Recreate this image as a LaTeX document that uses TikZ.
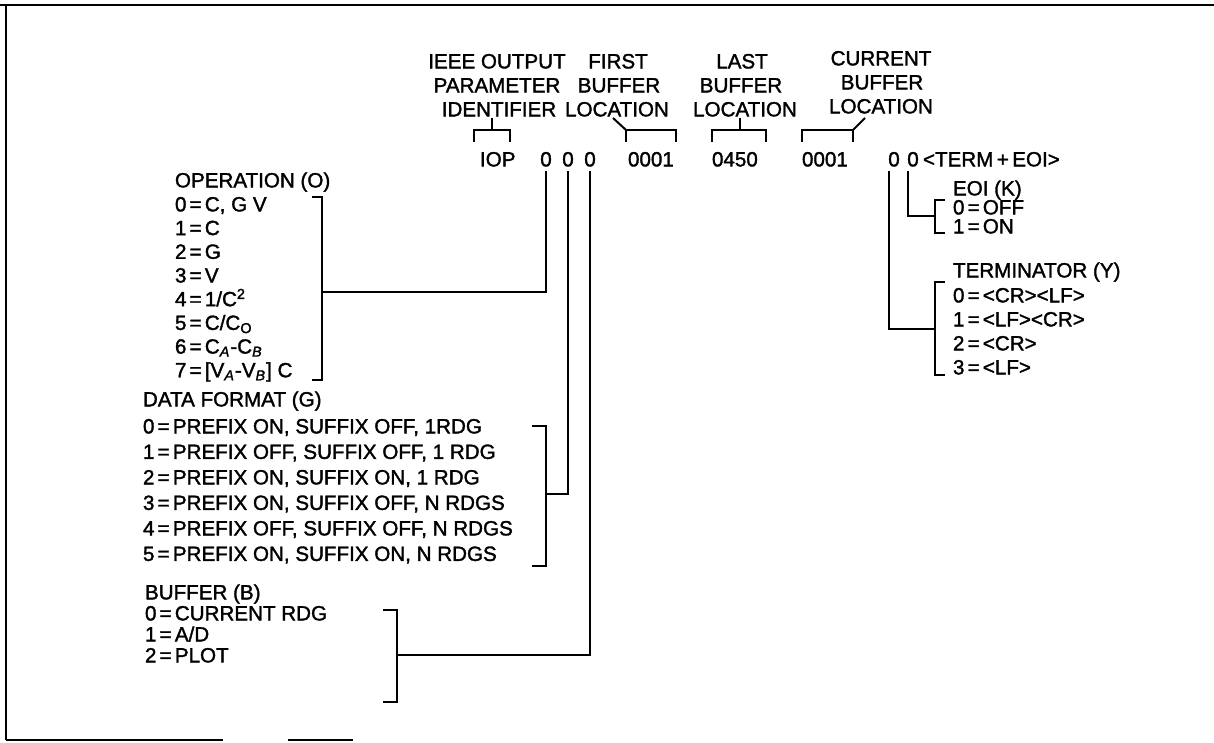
\documentclass[tikz,border=0pt]{standalone}
\usepackage{fontspec}
\setmainfont[FakeBold=1.6]{Liberation Sans}
\newcommand\myeq{\kern1.6pt=\kern1.6pt}
\begin{document}
\begin{tikzpicture}[x=0.5pt,y=-0.5pt,
  txt/.style={inner sep=0pt,outer sep=0pt,font=\fontsize{10.3pt}{12pt}\selectfont,anchor=base west},
  ctr/.style={txt,anchor=base},
  ln/.style={line width=1pt},
  frame/.style={line width=1.2pt}]
\useasboundingbox (0,0) rectangle (1214,743);
% frame
\draw[frame] (0,5) -- (1214,5);
\draw[frame] (6,5) -- (6,740);
\draw[frame] (6,740) -- (223,740);
\draw[frame] (288,740) -- (353,740);

% header
\node[ctr] (h1a) at (497,68.4) {IEEE OUTPUT};
\node[ctr] (h1b) at (497,92.4) {PARAMETER};
\node[ctr] (h1c) at (499,116.4) {IDENTIFIER};
\node[ctr] (h2a) at (618,68.4) {FIRST};
\node[ctr] (h2b) at (619,92.4) {BUFFER};
\node[ctr] (h2c) at (617,116.4) {LOCATION};
\node[ctr] (h3a) at (742,68.4) {LAST};
\node[ctr] (h3b) at (741,92.4) {BUFFER};
\node[ctr] (h3c) at (745,116.4) {LOCATION};
\node[ctr] (h4a) at (881,65.4) {CURRENT};
\node[ctr] (h4b) at (882,89.4) {BUFFER};
\node[ctr] (h4c) at (881,113.4) {LOCATION};

% header brackets
\coordinate (iopb) at (492,130);
\coordinate (firstb) at (626,130);
\coordinate (lastb) at (740,130);
\coordinate (curb) at (853,130);
\draw[ln] (474,142) -- (474,130) -- (510,130) -- (510,142);
\draw[ln] (iopb) -- ++(0,-12);
\draw[ln] (626,142) -- (firstb) -- (676,130) -- (676,142);
\draw[ln] (firstb) -- ++(-13,-12);
\draw[ln] (712,142) -- (712,130) -- (766,130) -- (766,142);
\draw[ln] (lastb) -- ++(0,-12);
\draw[ln] (802,142) -- (802,130) -- (curb) -- (853,142);
\draw[ln] (curb) -- ++(12,-12);

% values row
\node[txt] (iop) at (480,166.4) {IOP};
\node[ctr] (z1) at (546,166.4) {0};
\node[ctr] (z2) at (568,166.4) {0};
\node[ctr] (z3) at (590,166.4) {0};
\node[txt] (v1) at (628,166.4) {0001};
\node[txt] (v2) at (712,166.4) {0450};
\node[txt] (v3) at (802,166.4) {0001};
\node[ctr] (z4) at (894,166.4) {0};
\node[ctr] (z5) at (913,166.4) {0};
\node[txt] (term) at (923,166.4) {<TERM\,+\,EOI>};

% operation block
\node[txt] (opT) at (175,187.4) {OPERATION (O)};
\node[txt] (op0) at (175,211.4) {0\myeq C, G V};
\node[txt] (op1) at (175,235.1) {1\myeq C};
\node[txt] (op2) at (175,258.8) {2\myeq G};
\node[txt] (op3) at (175,282.5) {3\myeq V};
\node[txt] (op4) at (175,306.2) {4\myeq 1/C\textsuperscript{2}};
\node[txt] (op5) at (175,329.9) {5\myeq C/C\textsubscript{O}};
\node[txt] (op6) at (175,353.6) {6\myeq C\textsubscript{\textit{A}}-C\textsubscript{\textit{B}}};
\node[txt] (op7) at (175,377.3) {7\myeq [V\textsubscript{\textit{A}}-V\textsubscript{\textit{B}}] C};
\coordinate (opb) at (322,292);
\draw[ln] (312,197) -- (322,197) -- (322,380) -- (312,380);

% data format block
\node[txt] (dfT) at (143,406.4) {DATA FORMAT (G)};
\node[txt] (df0) at (143,433.4) {0\myeq PREFIX ON, SUFFIX OFF, 1RDG};
\node[txt] (df1) at (143,458.9) {1\myeq PREFIX OFF, SUFFIX OFF, 1 RDG};
\node[txt] (df2) at (143,484.4) {2\myeq PREFIX ON, SUFFIX ON, 1 RDG};
\node[txt] (df3) at (143,509.9) {3\myeq PREFIX ON, SUFFIX OFF, N RDGS};
\node[txt] (df4) at (143,535.4) {4\myeq PREFIX OFF, SUFFIX OFF, N RDGS};
\node[txt] (df5) at (143,560.9) {5\myeq PREFIX ON, SUFFIX ON, N RDGS};
\coordinate (datb) at (546,494);
\draw[ln] (532,426) -- (546,426) -- (546,566) -- (532,566);

% buffer block
\node[txt] (bT) at (145,599.4) {BUFFER (B)};
\node[txt] (b0) at (145,620.4) {0\myeq CURRENT RDG};
\node[txt] (b1) at (145,641.4) {1\myeq A/D};
\node[txt] (b2) at (145,662.4) {2\myeq PLOT};
\coordinate (bufb) at (397,655);
\draw[ln] (383,610) -- (397,610) -- (397,702) -- (383,702);

% EOI block
\node[txt] (eT) at (953,195.4) {EOI (K)};
\node[txt] (e0) at (953,214.4) {0\myeq OFF};
\node[txt] (e1) at (953,233.4) {1\myeq ON};
\coordinate (eoib) at (935,216);
\draw[ln] (945,200) -- (935,200) -- (935,233) -- (945,233);

% terminator block
\node[txt] (tT) at (953,277.4) {TERMINATOR (Y)};
\node[txt] (t0) at (953,302.4) {0\myeq <CR><LF>};
\node[txt] (t1) at (953,326.4) {1\myeq <LF><CR>};
\node[txt] (t2) at (953,350.4) {2\myeq <CR>};
\node[txt] (t3) at (953,374.4) {3\myeq <LF>};
\coordinate (termb) at (935,329);
\draw[ln] (945,282) -- (935,282) -- (935,375) -- (945,375);

% connectors
\draw[ln] ([yshift=-2.3pt]z1.south) |- (opb);
\draw[ln] ([yshift=-2.3pt]z2.south) |- (datb);
\draw[ln] ([yshift=-2.3pt]z3.south) |- (bufb);
\draw[ln] ([xshift=-2.5pt,yshift=-2.3pt]z4.south) |- (termb);
\draw[ln] ([xshift=-2.5pt,yshift=-2.3pt]z5.south) |- (eoib);
\end{tikzpicture}
\end{document}
